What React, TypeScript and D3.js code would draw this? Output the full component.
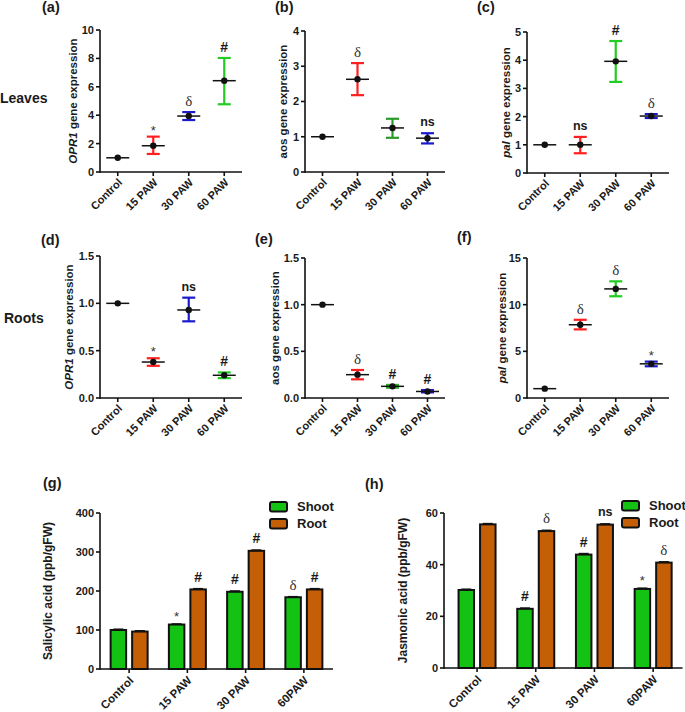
import React from "react";
import * as d3 from "d3";

// ---------- data ----------
const categories = ["Control", "15 PAW", "30 PAW", "60 PAW"];
const barCategories = ["Control", "15 PAW", "30 PAW", "60PAW"];
const barSeries = ["Shoot", "Root"];

const opr1LeafMean = [1.0, 1.85, 3.94, 6.43];
const opr1LeafLow = [1.0, 1.27, 3.66, 4.77];
const opr1LeafHigh = [1.0, 2.49, 4.22, 8.03];
const opr1LeafSig = ["", "*", "δ", "#"];
const opr1LeafTicks = [0, 2, 4, 6, 8, 10];

const aosLeafMean = [1.0, 2.63, 1.25, 0.96];
const aosLeafLow = [1.0, 2.18, 0.97, 0.81];
const aosLeafHigh = [1.0, 3.09, 1.51, 1.1];
const aosLeafSig = ["", "δ", "", "ns"];
const aosLeafTicks = [0, 1, 2, 3, 4];

const palLeafMean = [1.0, 1.0, 3.96, 2.02];
const palLeafLow = [1.0, 0.7, 3.23, 1.95];
const palLeafHigh = [1.0, 1.28, 4.68, 2.09];
const palLeafSig = ["", "ns", "#", "δ"];
const palLeafTicks = [0, 1, 2, 3, 4, 5];

const opr1RootMean = [1.0, 0.38, 0.93, 0.24];
const opr1RootLow = [1.0, 0.34, 0.81, 0.21];
const opr1RootHigh = [1.0, 0.42, 1.06, 0.27];
const opr1RootSig = ["", "*", "ns", "#"];
const opr1RootTicks = [0, 0.5, 1.0, 1.5];

const aosRootMean = [1.0, 0.25, 0.125, 0.07];
const aosRootLow = [1.0, 0.2, 0.11, 0.06];
const aosRootHigh = [1.0, 0.3, 0.14, 0.085];
const aosRootSig = ["", "δ", "#", "#"];
const aosRootTicks = [0, 0.5, 1.0, 1.5];

const palRootMean = [1.0, 7.85, 11.69, 3.66];
const palRootLow = [1.0, 7.35, 10.9, 3.4];
const palRootHigh = [1.0, 8.38, 12.5, 3.9];
const palRootSig = ["", "δ", "δ", "*"];
const palRootTicks = [0, 5, 10, 15];

const saShoot = [100, 114, 198, 184];
const saShootErr = [2, 1.5, 2, 1.5];
const saRoot = [96, 204, 303, 204];
const saRootErr = [2, 2, 2, 2];
const saShootSig = ["", "*", "#", "δ"];
const saRootSig = ["", "#", "#", "#"];
const saTicks = [0, 100, 200, 300, 400];

const jaShoot = [30.2, 22.9, 43.9, 30.6];
const jaShootErr = [0.3, 0.3, 0.4, 0.3];
const jaRoot = [55.6, 53.0, 55.5, 40.8];
const jaRootErr = [0.3, 0.3, 0.3, 0.3];
const jaShootSig = ["", "#", "#", "*"];
const jaRootSig = ["", "δ", "ns", "δ"];
const jaTicks = [0, 20, 40, 60];

// ---------- styles ----------
const FONT = "'Liberation Sans', Arial, Helvetica, sans-serif";
const SERIF = "'Liberation Serif', 'Times New Roman', serif";
const RED = "#ff1f1f";
const BLUE = "#1a1acc";
const GREEN = "#22cc22";
const DKGREEN = "#2a9a2a";
const BAR_GREEN = "#14c214";
const BAR_BROWN = "#c45f08";

function SigText({ x, y, s }: { x: number; y: number; s: string }) {
  if (!s) return null;
  if (s === "δ")
    return (
      <text x={x} y={y + 5} textAnchor="middle" fontFamily={SERIF} fontSize={15} fill="#333">
        δ
      </text>
    );
  if (s === "*")
    return (
      <text x={x} y={y + 9} textAnchor="middle" fontFamily={FONT} fontSize={13} fill="#333">
        *
      </text>
    );
  if (s === "#")
    return (
      <text x={x} y={y + 5} textAnchor="middle" fontFamily={FONT} fontWeight="bold" fontSize={14} fill="#1a1a1a">
        #
      </text>
    );
  return (
    <text x={x} y={y + 4} textAnchor="middle" fontFamily={FONT} fontWeight="bold" fontSize={12.5} fill="#1a1a1a">
      {s}
    </text>
  );
}

function XLabels({ x, cats, bottom }: any) {
  return (
    <g>
      {cats.map((c: string, i: number) => (
        <text
          key={i}
          transform={`translate(${x(c) + 3},${bottom + 9}) rotate(-45)`}
          textAnchor="end"
          dominantBaseline="middle"
          fontFamily={FONT}
          fontWeight="bold"
          fontSize={11}
          fill="#1a1a1a"
        >
          {c}
        </text>
      ))}
    </g>
  );
}

function YAxis({ y, ticks, x0, fmt }: any) {
  const [r0, r1] = y.range();
  return (
    <g>
      <line x1={x0} x2={x0} y1={r0 + 0.8} y2={r1} stroke="#111" strokeWidth={1.6} />
      {ticks.map((t: number, i: number) => (
        <g key={i}>
          <line x1={x0 - 4} x2={x0} y1={y(t)} y2={y(t)} stroke="#111" strokeWidth={1.6} />
          <text
            x={x0 - 6}
            y={y(t)}
            dy="0.36em"
            textAnchor="end"
            fontFamily={FONT}
            fontWeight="bold"
            fontSize={11}
            fill="#1a1a1a"
          >
            {fmt(t)}
          </text>
        </g>
      ))}
    </g>
  );
}

function DotPanel(p: any) {
  const x = d3.scalePoint().domain(categories).range([p.x0, p.x1]).padding(0.5);
  const y = d3.scaleLinear().domain([0, p.ticks[p.ticks.length - 1]]).range([p.yBottom, p.yTop]);
  const midY = (p.yBottom + p.yTop) / 2;
  return (
    <g>
      <YAxis y={y} ticks={p.ticks} x0={p.x0} fmt={p.fmt} />
      <line x1={p.x0} x2={p.x1} y1={p.yBottom} y2={p.yBottom} stroke="#111" strokeWidth={1.6} />
      {categories.map((c, i) => (
        <line key={i} x1={x(c)} x2={x(c)} y1={p.yBottom} y2={p.yBottom + 4} stroke="#111" strokeWidth={1.6} />
      ))}
      {categories.map((c, i) => {
        const cx = x(c) as number;
        const col = p.colors[i];
        const hasErr = p.high[i] - p.low[i] > 0.001;
        return (
          <g key={c}>
            {hasErr && (
              <g stroke={col} strokeWidth={2.2}>
                <line x1={cx} x2={cx} y1={y(p.low[i])} y2={y(p.high[i])} />
                <line x1={cx - 6.5} x2={cx + 6.5} y1={y(p.low[i])} y2={y(p.low[i])} />
                <line x1={cx - 6.5} x2={cx + 6.5} y1={y(p.high[i])} y2={y(p.high[i])} />
              </g>
            )}
            <line x1={cx - 11.5} x2={cx + 11.5} y1={y(p.mean[i])} y2={y(p.mean[i])} stroke="#111" strokeWidth={1.5} />
            <circle cx={cx} cy={y(p.mean[i])} r={3.2} fill="#111" />
            <SigText x={cx} y={y(p.high[i]) - 11} s={p.sig[i]} />
          </g>
        );
      })}
      <XLabels x={x} cats={categories} bottom={p.yBottom} />
      <text
        transform={`translate(${p.titleX},${midY}) rotate(-90)`}
        textAnchor="middle"
        dy="0.35em"
        fontFamily={FONT}
        fontWeight="bold"
        fontSize={11.5}
        fill="#1a1a1a"
      >
        {p.italic ? (
          <>
            <tspan fontStyle="italic">{p.italic}</tspan>
            {p.rest}
          </>
        ) : (
          p.rest
        )}
      </text>
    </g>
  );
}

function BarPanel(p: any) {
  const x = d3.scaleBand().domain(barCategories).range([p.bx0, p.bx1]);
  const sub = d3.scaleBand().domain(barSeries).range([-18.5, 18.5]).paddingInner(0.28);
  const y = d3.scaleLinear().domain([0, p.ticks[p.ticks.length - 1]]).range([p.yBottom, p.yTop]);
  const fills = [BAR_GREEN, BAR_BROWN];
  const vals = [p.shoot, p.root];
  const errs = [p.shootErr, p.rootErr];
  const sigs = [p.shootSig, p.rootSig];
  const midY = (p.yBottom + p.yTop) / 2;
  return (
    <g>
      <YAxis y={y} ticks={p.ticks} x0={p.x0} fmt={d3.format("d")} />
      {barCategories.map((c, i) => {
        const cx = (x(c) as number) + x.bandwidth() / 2;
        return (
          <g key={c}>
            {barSeries.map((s, k) => {
              const bx = cx + (sub(s) as number);
              const bw = sub.bandwidth();
              const v = vals[k][i];
              const e = errs[k][i];
              return (
                <g key={s}>
                  <line x1={bx + bw / 2} x2={bx + bw / 2} y1={y(v)} y2={y(v + e)} stroke="#111" strokeWidth={1.5} />
                  <line x1={bx + bw / 2 - 5} x2={bx + bw / 2 + 5} y1={y(v + e)} y2={y(v + e)} stroke="#111" strokeWidth={1.5} />
                  <rect x={bx} y={y(v)} width={bw} height={y(0) - y(v)} fill={fills[k]} stroke="#111" strokeWidth={2} />
                  <SigText x={bx + bw / 2} y={y(v + e) - 12} s={sigs[k][i]} />
                </g>
              );
            })}
          </g>
        );
      })}
      <line x1={p.x0} x2={p.bx1} y1={p.yBottom} y2={p.yBottom} stroke="#111" strokeWidth={1.6} />
      {barCategories.map((c, i) => {
        const cx = (x(c) as number) + x.bandwidth() / 2;
        return <line key={i} x1={cx} x2={cx} y1={p.yBottom} y2={p.yBottom + 4} stroke="#111" strokeWidth={1.6} />;
      })}
      <g>
        {barCategories.map((c, i) => {
          const cx = (x(c) as number) + x.bandwidth() / 2;
          return (
            <text
              key={i}
              transform={`translate(${cx + 3},${p.yBottom + 10}) rotate(-45)`}
              textAnchor="end"
              dominantBaseline="middle"
              fontFamily={FONT}
              fontWeight="bold"
              fontSize={11.5}
              fill="#1a1a1a"
            >
              {c}
            </text>
          );
        })}
      </g>
      <text
        transform={`translate(${p.titleX},${midY}) rotate(-90)`}
        textAnchor="middle"
        dy="0.35em"
        fontFamily={FONT}
        fontWeight="bold"
        fontSize={12}
        fill="#1a1a1a"
      >
        {p.title}
      </text>
      {barSeries.map((s, k) => (
        <g key={s}>
          <rect x={p.legX} y={p.legY + k * 17} width={17} height={9.5} rx={2} fill={fills[k]} stroke="#111" strokeWidth={2} />
          <text
            x={p.legX + 27}
            y={p.legY + k * 17 + 4.8}
            dy="0.36em"
            fontFamily={FONT}
            fontWeight="bold"
            fontSize={13}
            fill="#1a1a1a"
          >
            {s}
          </text>
        </g>
      ))}
    </g>
  );
}

function Label({ x, y, t, size = 14.5 }: any) {
  return (
    <text x={x} y={y} fontFamily={FONT} fontWeight="bold" fontSize={size} fill="#1a1a1a">
      {t}
    </text>
  );
}

export default function App() {
  const f0 = d3.format("d");
  const f1 = d3.format(".1f");
  return (
    <svg width={685} height={712} style={{ position: "absolute", left: 0, top: 0, background: "#fff" }}>
      <rect width={685} height={712} fill="#fff" />
      <Label x={42} y={12} t="(a)" />
      <Label x={275} y={12} t="(b)" />
      <Label x={477} y={12} t="(c)" />
      <Label x={41} y={245} t="(d)" />
      <Label x={255} y={244} t="(e)" />
      <Label x={457} y={242} t="(f)" />
      <Label x={43} y={488} t="(g)" />
      <Label x={365} y={489} t="(h)" />
      <Label x={0} y={103} t="Leaves" size={14} />
      <Label x={4} y={323} t="Roots" size={14} />

      <DotPanel x0={100} x1={242} yTop={30} yBottom={172} ticks={opr1LeafTicks} fmt={f0}
        mean={opr1LeafMean} low={opr1LeafLow} high={opr1LeafHigh} sig={opr1LeafSig}
        colors={["#111", RED, BLUE, GREEN]} titleX={73} italic="OPR1" rest=" gene expression" />
      <DotPanel x0={305} x1={445} yTop={31} yBottom={172} ticks={aosLeafTicks} fmt={f0}
        mean={aosLeafMean} low={aosLeafLow} high={aosLeafHigh} sig={aosLeafSig}
        colors={["#111", RED, DKGREEN, BLUE]} titleX={283} rest="aos gene expression" />
      <DotPanel x0={527} x1={669} yTop={32} yBottom={173} ticks={palLeafTicks} fmt={f0}
        mean={palLeafMean} low={palLeafLow} high={palLeafHigh} sig={palLeafSig}
        colors={["#111", RED, GREEN, BLUE]} titleX={506} italic="pal" rest=" gene expression" />

      <DotPanel x0={100} x1={242} yTop={256} yBottom={398} ticks={opr1RootTicks} fmt={f1}
        mean={opr1RootMean} low={opr1RootLow} high={opr1RootHigh} sig={opr1RootSig}
        colors={["#111", RED, BLUE, GREEN]} titleX={69} italic="OPR1" rest=" gene expression" />
      <DotPanel x0={305} x1={445} yTop={258} yBottom={398} ticks={aosRootTicks} fmt={f1}
        mean={aosRootMean} low={aosRootLow} high={aosRootHigh} sig={aosRootSig}
        colors={["#111", RED, "#2fae2f", BLUE]} titleX={275} rest="aos gene expression" />
      <DotPanel x0={527} x1={669} yTop={258} yBottom={398} ticks={palRootTicks} fmt={f0}
        mean={palRootMean} low={palRootLow} high={palRootHigh} sig={palRootSig}
        colors={["#111", RED, GREEN, BLUE]} titleX={502} italic="pal" rest=" gene expression" />

      <BarPanel x0={100} bx0={100} bx1={333} yTop={513} yBottom={669} ticks={saTicks}
        shoot={saShoot} shootErr={saShootErr} root={saRoot} rootErr={saRootErr}
        shootSig={saShootSig} rootSig={saRootSig} titleX={48} title="Salicylic acid (ppb/gFW)"
        legX={270} legY={502} />
      <BarPanel x0={444} bx0={447.7} bx1={682.5} yTop={513} yBottom={668} ticks={jaTicks}
        shoot={jaShoot} shootErr={jaShootErr} root={jaRoot} rootErr={jaRootErr}
        shootSig={jaShootSig} rootSig={jaRootSig} titleX={403} title="Jasmonic acid (ppb/gFW)"
        legX={622} legY={501} />
    </svg>
  );
}
